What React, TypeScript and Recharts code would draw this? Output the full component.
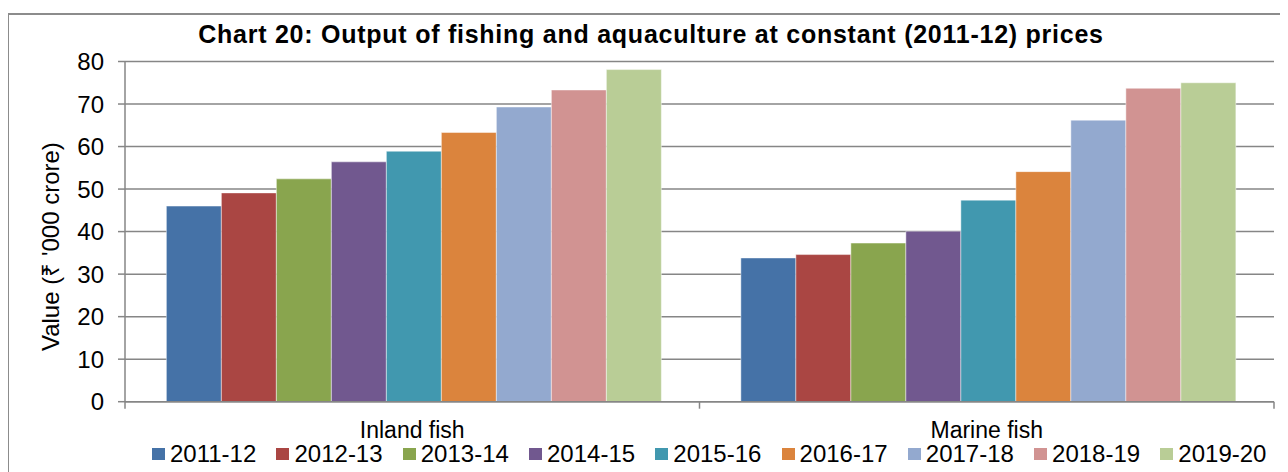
import { BarChart, Bar, XAxis, YAxis, CartesianGrid } from "recharts"

const categories = ["Inland fish", "Marine fish"]
const years = ["2011-12", "2012-13", "2013-14", "2014-15", "2015-16", "2016-17", "2017-18", "2018-19", "2019-20"]
const inlandFish = [46.0, 49.1, 52.4, 56.4, 58.9, 63.3, 69.3, 73.3, 78.1]
const marineFish = [33.8, 34.6, 37.3, 40.1, 47.4, 54.1, 66.2, 73.7, 75.0]
const yTicks = [0, 10, 20, 30, 40, 50, 60, 70, 80]
const colors = ["#4572A7", "#AA4643", "#89A54E", "#71588F", "#4198AF", "#DB843D", "#93A9CF", "#D19392", "#B9CD96"]

const seriesByCategory = [inlandFish, marineFish]
const data = categories.map((category, i) => {
  const row: Record<string, string | number> = { category }
  years.forEach((_, j) => {
    row["y" + j] = seriesByCategory[i][j]
  })
  return row
})

const font = "'Liberation Sans', Arial, sans-serif"
const axisGray = "#868686"

function CategoryTick(props: any) {
  const { x, y, payload, width, visibleTicksCount, index } = props
  const half = width && visibleTicksCount ? width / visibleTicksCount / 2 : 287
  return (
    <g>
      <line x1={x - half} x2={x - half} y1={y} y2={y + 7} stroke={axisGray} strokeWidth={1.5} />
      {index === visibleTicksCount - 1 && (
        <line x1={x + half} x2={x + half} y1={y} y2={y + 7} stroke={axisGray} strokeWidth={1.5} />
      )}
      <text x={x} y={y + 36.6} textAnchor="middle" fill="#000" fontSize={23} fontFamily={font}>
        {payload.value}
      </text>
    </g>
  )
}

function YLabel(props: any) {
  const { viewBox } = props
  const cx = viewBox.x + 43
  const cy = viewBox.y + viewBox.height / 2 + 15
  return (
    <text
      x={cx}
      y={cy}
      transform={`rotate(-90, ${cx}, ${cy})`}
      textAnchor="middle"
      dominantBaseline="central"
      fontSize={24}
      fontFamily={font}
      fill="#000"
    >
      Value (₹ '000 crore)
    </text>
  )
}

export default function App() {
  return (
    <div style={{ position: "relative", width: 1280, height: 464, overflow: "hidden", fontFamily: font }}>
      <style>{"html,body{overflow:hidden}"}</style>
      <div
        style={{
          position: "absolute",
          left: -1,
          top: 5,
          width: 1300,
          height: 480,
          borderTop: "2px solid #8c8c8c",
          borderLeft: "2px solid #8c8c8c",
        }}
      />
      <div
        style={{
          position: "absolute",
          left: 3,
          top: 14,
          width: 1280,
          textAlign: "center",
          fontSize: 25,
          lineHeight: "25px",
          fontWeight: "bold",
          letterSpacing: 0.75,
          color: "#000",
        }}
      >
        Chart 20: Output of fishing and aquaculture at constant (2011-12) prices
      </div>
      <BarChart
        width={1280}
        height={464}
        data={data}
        margin={{ top: 53.5, right: 14, left: 0, bottom: 30.3 }}
        barCategoryGap="7.2%"
        barGap={0}
      >
        <CartesianGrid vertical={false} stroke={axisGray} strokeWidth={1.5} />
        <XAxis
          dataKey="category"
          height={40}
          tickLine={false}
          tickSize={0}
          tickMargin={0}
          axisLine={{ stroke: axisGray, strokeWidth: 1.5 }}
          tick={<CategoryTick />}
          interval={0}
        />
        <YAxis
          width={117}
          domain={[0, 80]}
          ticks={yTicks}
          interval={0}
          tickSize={7}
          tickMargin={14}
          axisLine={{ stroke: axisGray, strokeWidth: 1.5 }}
          tickLine={{ stroke: axisGray, strokeWidth: 1.5 }}
          tick={{ fill: "#000", fontSize: 24, fontFamily: font }}
          label={<YLabel />}
        />
        {years.map((year, j) => (
          <Bar
            key={year}
            dataKey={"y" + j}
            name={year}
            fill={colors[j]}
            stroke="rgba(255,255,255,0.45)"
            strokeWidth={1}
            isAnimationActive={false}
          />
        ))}
      </BarChart>
      <div
        style={{
          position: "absolute",
          left: 144,
          top: 434,
          display: "flex",
          alignItems: "center",
          gap: 20.2,
          fontSize: 24,
          lineHeight: "24px",
          color: "#000",
          whiteSpace: "nowrap",
        }}
      >
        {years.map((year, j) => (
          <div key={year} style={{ display: "flex", alignItems: "center" }}>
            <span style={{ display: "inline-block", width: 13, height: 12, background: colors[j], marginRight: 5 }} />
            <span>{year}</span>
          </div>
        ))}
      </div>
    </div>
  )
}
